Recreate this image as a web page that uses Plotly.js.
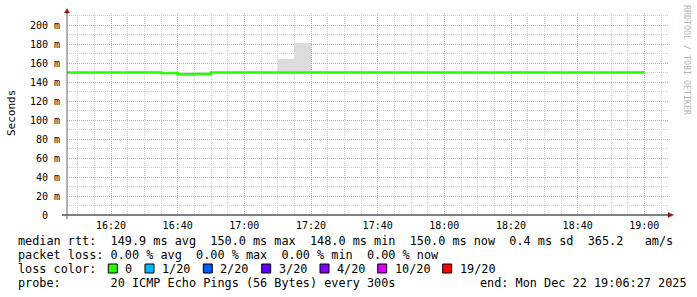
<!DOCTYPE html>
<html><head><meta charset="utf-8">
<script src="https://cdn.plot.ly/plotly-3.0.1.min.js"></script>
<style>html,body{margin:0;padding:0;background:#fff;}#chart{width:697px;height:297px;}</style>
</head><body><div id="chart"></div>
<script>
// ---- data (5-minute bins, start times) ----
const day = '2025-12-22';
const binStarts = ['16:05','16:10','16:15','16:20','16:25','16:30','16:35','16:40','16:45','16:50',
  '16:55','17:00','17:05','17:10','17:15','17:20','17:25','17:30','17:35','17:40',
  '17:45','17:50','17:55','18:00','18:05','18:10','18:15','18:20','18:25','18:30',
  '18:35','18:40','18:45','18:50','18:55'];
const medianRtt = [150.0,150.0,150.0,150.0,150.0,150.0,149.5,148.0,148.5,150.0,
  150.0,150.0,150.0,150.0,150.0,150.0,150.0,150.0,150.0,150.0,
  150.0,150.0,150.0,150.0,150.0,150.0,150.0,150.0,150.0,150.0,
  150.0,150.0,150.0,150.0,150.0];
const smokeLow = [149.2,149.2,149.2,149.2,149.2,149.2,149.0,147.6,148.0,149.2,
  149.2,149.2,149.2,149.2,149.2,149.2,149.2,149.2,149.2,149.2,
  149.2,149.2,149.2,149.2,149.2,149.2,149.2,149.2,149.2,149.2,
  149.2,149.2,149.2,149.2,149.2];
const smokeHigh = [150.6,150.6,150.6,150.6,151.8,151.8,150.6,150.6,150.6,150.6,
  150.6,151.8,150.6,164.5,181.3,151.8,150.6,151.8,151.8,150.6,
  150.6,151.8,150.6,150.6,150.6,150.6,150.6,151.8,150.6,150.6,
  150.6,150.6,150.6,150.6,151.8];
const yTickVals = [0,20,40,60,80,100,120,140,160,180,200];
const yTickText = ['0\u00A0\u00A0','20 m','40 m','60 m','80 m','100 m','120 m','140 m','160 m','180 m','200 m'];
const lossLabels = ['0','1/20','2/20','3/20','4/20','10/20','19/20'];
const lossColors = ['#26ff00','#00b8ff','#0059ff','#5e00ff','#7e00ff','#dd00ff','#ff0000'];
const legendLines = [
  'median rtt:  149.9 ms avg  150.0 ms max  148.0 ms min  150.0 ms now  0.4 ms sd  365.2   am/s',
  'packet loss: 0.00 % avg  0.00 % max  0.00 % min  0.00 % now',
  'loss color:',
  'probe:       20 ICMP Echo Pings (56 Bytes) every 300s'
];
const endText = 'end: Mon Dec 22 19:06:27 2025';
const watermark = 'RRDTOOL / TOBI OETIKER';

// ---- helpers ----
const STEP = 300000;
const toMs = s => new Date(day + 'T' + s + ':00Z').getTime();
const fmt = ms => new Date(ms).toISOString().replace('T',' ').replace('Z','');
const startsMs = binStarts.map(toMs);
const L = 67, R = 28, T = 13, B = 82, W = 697 - L - R, H = 297 - T - B;
const px = x => (x - L) / W;
const py = y => (215 - y) / H;
const nb = s => s.replace(/ /g, '\u00A0');
const MONO = 'DejaVu Sans Mono';

const lineX = startsMs.map(fmt).concat([fmt(startsMs[startsMs.length-1] + STEP)]);
const lineY = medianRtt.concat([medianRtt[medianRtt.length-1]]);

const traces = [
  {type:'bar', x: startsMs.map(t => fmt(t + STEP/2)), y: smokeHigh.map((h,i)=>h - smokeLow[i]),
   base: smokeLow, width: STEP, marker:{color:'#dcdcdc', line:{width:0}}, hoverinfo:'skip'},
  {type:'scatter', mode:'lines', x: lineX, y: lineY, line:{color:'#26ff00', width:2.6, shape:'hv'}, hoverinfo:'skip'}
];

const annotations = [];
const lineYs = [241, 255, 269, 283];
legendLines.forEach((t,i)=>annotations.push({xref:'paper',yref:'paper',x:px(16),y:py(lineYs[i]),xanchor:'left',yanchor:'middle',
  text:nb(t),showarrow:false,font:{family:MONO,size:11.84,color:'#000'}}));
annotations.push({xref:'paper',yref:'paper',x:px(478.3),y:py(283),xanchor:'left',yanchor:'middle',text:nb(endText),showarrow:false,
  font:{family:MONO,size:11.84,color:'#000'}});
const boxX = [108.3,145,203.3,261.7,320,377.7,442.7];
const shapes = [];
lossLabels.forEach((lab,i)=>{
  shapes.push({type:'rect',xref:'paper',yref:'paper',x0:px(boxX[i]),x1:px(boxX[i]+9),y0:py(273),y1:py(264),
    fillcolor:lossColors[i],line:{color:'#000',width:1}});
  annotations.push({xref:'paper',yref:'paper',x:px(boxX[i]+15),y:py(lineYs[2]),xanchor:'left',yanchor:'middle',
    text:nb(lab),showarrow:false,font:{family:MONO,size:11.84,color:'#000'}});
});
annotations.push({xref:'paper',yref:'paper',x:px(11),y:py(113),xanchor:'center',yanchor:'middle',text:'Seconds',textangle:-90,
  showarrow:false,font:{family:MONO,size:11,color:'#000'}});
annotations.push({xref:'paper',yref:'paper',x:px(687),y:py(60),xanchor:'center',yanchor:'middle',text:nb(watermark),textangle:90,
  showarrow:false,font:{family:MONO,size:8.3,color:'#b4b4b4'}});

// axis lines and arrows
shapes.push({type:'line',xref:'paper',yref:'paper',x0:px(62),x1:px(668),y0:py(215),y1:py(215),line:{color:'#000',width:1}});
shapes.push({type:'line',xref:'paper',yref:'paper',x0:px(67),x1:px(67),y0:py(219),y1:py(12),line:{color:'#666',width:1}});
shapes.push({type:'path',xref:'paper',yref:'paper',fillcolor:'#8b1a1a',line:{color:'#8b1a1a',width:0.5},
  path:`M ${px(64.5)},${py(13)} L ${px(69.5)},${py(13)} L ${px(67)},${py(8.5)} Z`});
shapes.push({type:'path',xref:'paper',yref:'paper',fillcolor:'#8b1a1a',line:{color:'#8b1a1a',width:0.5},
  path:`M ${px(668)},${py(212.5)} L ${px(668)},${py(217.5)} L ${px(673.5)},${py(215)} Z`});

const startRange = toMs('16:06') + 48000;
const endRange = startRange + W / (200/60) * 60000;

const layout = {
  width:697, height:297, margin:{l:L,r:R,t:T,b:B,pad:0},
  paper_bgcolor:'#fff', plot_bgcolor:'#fff', showlegend:false, bargap:0, barmode:'overlay',
  font:{family:MONO,size:10,color:'#000'},
  xaxis:{type:'date', range:[fmt(startRange), fmt(endRange)], tick0: day+' 16:00', dtick: 20*60000, tickformat:'%H:%M',
    showgrid:true, gridcolor:'#e4a4a4', griddash:'1px,1px', gridwidth:1, zeroline:false, showline:false, ticks:'',
    ticklabelstandoff:3, tickfont:{family:MONO,size:10,color:'#000'},
    minor:{dtick:5*60000, showgrid:true, gridcolor:'#cfcfcf', griddash:'1px,1px', gridwidth:1}},
  yaxis:{range:[0, H/0.95], tickvals:yTickVals, ticktext:yTickText, showgrid:true, gridcolor:'#e4a4a4', griddash:'1px,1px',
    zeroline:false, showline:false, ticks:'', ticklabelstandoff:6, tickfont:{family:MONO,size:10,color:'#000'},
    minor:{tickvals:[10,30,50,70,90,110,130,150,170,190,210], showgrid:true, gridcolor:'#cfcfcf', griddash:'1px,1px', gridwidth:1}},
  shapes: shapes, annotations: annotations
};
Plotly.newPlot('chart', traces, layout, {staticPlot:true, displayModeBar:false});
</script></body></html>
